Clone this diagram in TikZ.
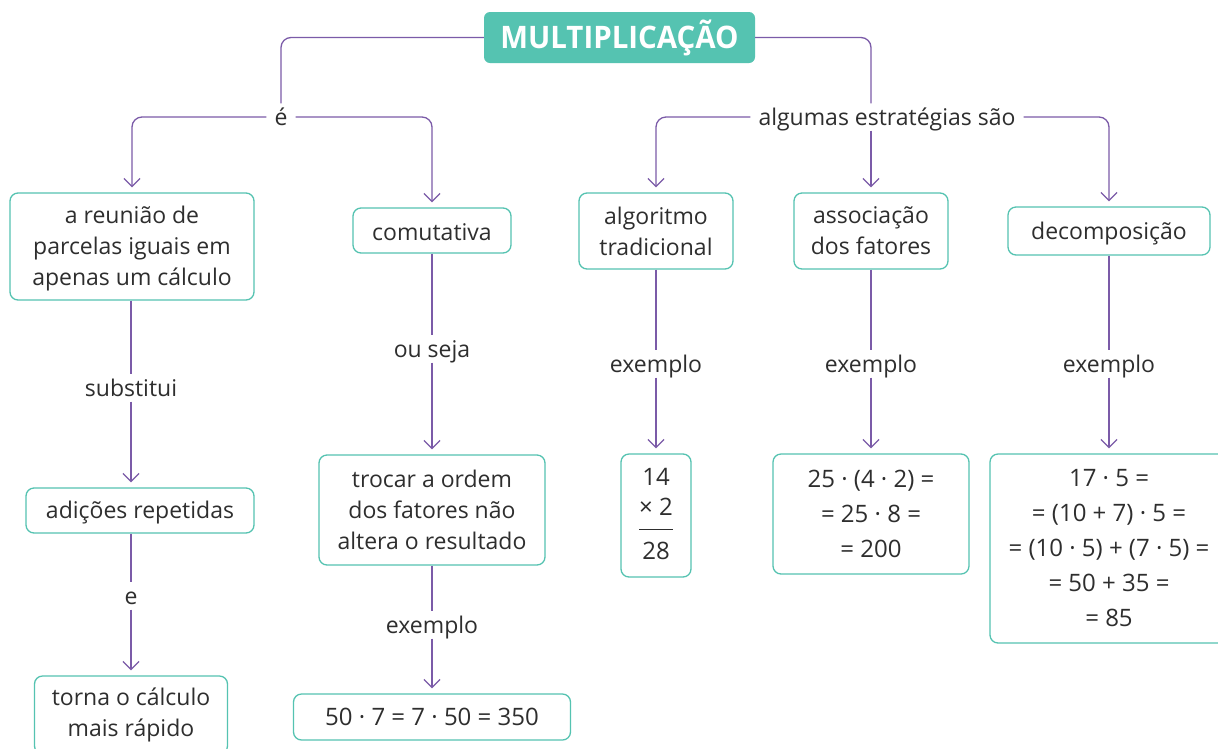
\documentclass[tikz,border=0pt]{standalone}
\usepackage{fontspec}
\setmainfont{Open Sans}
\newfontfamily\titulofont[FakeStretch=0.95]{Open Sans}
\usetikzlibrary{arrows.meta}
\definecolor{verde}{HTML}{55C3B1}
\definecolor{roxo}{HTML}{7B5BA8}
\definecolor{texto}{HTML}{2E2E2E}

\begin{document}
\begin{tikzpicture}[x=1pt,y=-1pt,
  caixa/.style={draw=verde, line width=1.3pt, rounded corners=8pt, align=center, text=texto,
    font=\fontsize{23}{31}\selectfont, inner sep=0pt},
  conta/.style={caixa, font=\fontsize{24}{35}\selectfont},
  rotulo/.style={text=texto, font=\fontsize{23}{26}\selectfont, text height=19pt, text depth=2pt,
    inner xsep=8pt, inner ysep=3pt},
  liga/.style={draw=roxo, line width=1.3pt, rounded corners=10pt},
  seta/.style={liga, -{Straight Barb[length=8pt,width=16pt]}, shorten >=5pt}]
\useasboundingbox (0,0) rectangle (1218,748);
\fill[white] (0,0) rectangle (1218,748);
\clip (0,0) rectangle (1218,748);

% topo
\node[fill=verde, rounded corners=6pt, minimum width=271pt, minimum height=51pt, text=white,
  font=\titulofont\bfseries\fontsize{31}{32}\selectfont] (titulo) at (619.5,37.5) {MULTIPLICAÇÃO};
\node[rotulo] (e) at (281,117) {é};
\node[rotulo] (estr) at (887,117) {algumas estratégias são};

% caixas da primeira linha
\node[caixa, minimum width=244pt, minimum height=107pt] (reuniao) at (132,246.5)
  {\rule{0pt}{22pt}a reunião de\\parcelas iguais em\\apenas um cálculo};
\node[caixa, minimum width=158pt, minimum height=45pt] (comut) at (432,230.5) {\rule{0pt}{21pt}comutativa};
\node[caixa, minimum width=154pt, minimum height=76pt] (algor) at (656,231) {algoritmo\\tradicional};
\node[caixa, minimum width=154pt, minimum height=76pt] (assoc) at (871,231) {associação\\dos fatores};
\node[caixa, minimum width=202pt, minimum height=48pt] (decomp) at (1109,231) {\rule{0pt}{22pt}decomposição};

% rotulos do meio
\node[rotulo] (subst) at (131,388) {substitui};
\node[rotulo] (ee) at (131,596) {e};
\node[rotulo] (ouseja) at (432,349) {ou seja};
\node[rotulo] (exA) at (432,625) {exemplo};
\node[rotulo] (exB) at (656,364) {exemplo};
\node[rotulo] (exC) at (871,364) {exemplo};
\node[rotulo] (exD) at (1109,364) {exemplo};

% caixas de baixo
\node[caixa, minimum width=228pt, minimum height=45pt] (adicoes) at (140,510.5) {\rule{0pt}{21pt}adições repetidas};
\node[caixa, minimum width=193pt, minimum height=78pt] (torna) at (131,715) {torna o cálculo\\mais rápido};
\node[caixa, minimum width=226pt, minimum height=110pt] (trocar) at (432,510)
  {trocar a ordem\\dos fatores não\\altera o resultado};
\node[conta, minimum width=277pt, minimum height=46pt] (cinq) at (432,717) {50 · 7 = 7 · 50 = 350};
\node[conta, minimum width=70pt, minimum height=123pt] (armada) at (656,515.5)
  {\setlength{\arrayrulewidth}{1.3pt}\begin{tabular}{@{}c@{}}\rule{0pt}{22pt}14\\[-5pt] × 2\\[3pt]\hline\rule{0pt}{29pt}28\end{tabular}};
\node[conta, minimum width=196pt, minimum height=120pt] (assocex) at (871,514)
  {25 · (4 · 2) =\\= 25 · 8 =\\= 200};
\node[conta, minimum width=238pt, minimum height=189pt] (decompex) at (1109,548.5)
  {17 · 5 =\\= (10 + 7) · 5 =\\= (10 · 5) + (7 · 5) =\\= 50 + 35 =\\= 85};

% ligacoes
\draw[liga] (titulo.west) -| (e.north);
\draw[liga] (titulo.east) -| (assoc |- estr.north);
\draw[seta] (e.west) -| (reuniao.north);
\draw[seta] (e.east) -| (comut.north);
\draw[seta] (estr.west) -| (algor.north);
\draw[seta] (assoc |- estr.south) -- (assoc.north);
\draw[seta] (estr.east) -| (decomp.north);

\draw[liga] (reuniao.south -| subst) -- (subst.north);
\draw[seta] (subst.south) -- (subst |- adicoes.north);
\draw[liga] (adicoes.south -| ee) -- (ee.north);
\draw[seta] (ee.south) -- (ee |- torna.north);

\draw[liga] (comut.south) -- (ouseja.north);
\draw[seta] (ouseja.south) -- (trocar.north);
\draw[liga] (trocar.south) -- (exA.north);
\draw[seta] (exA.south) -- (cinq.north);

\draw[liga] (algor.south) -- (exB.north);
\draw[seta] (exB.south) -- (armada.north);
\draw[liga] (assoc.south) -- (exC.north);
\draw[seta] (exC.south) -- (assocex.north);
\draw[liga] (decomp.south) -- (exD.north);
\draw[seta] (exD.south) -- (decompex.north);
\end{tikzpicture}
\end{document}
